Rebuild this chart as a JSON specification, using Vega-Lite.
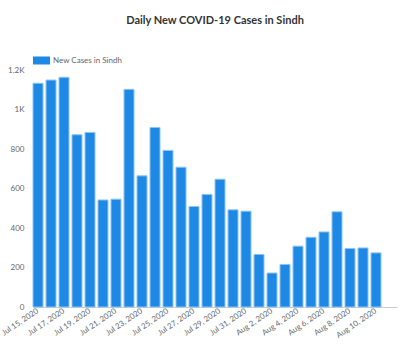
{
  "$schema": "https://vega.github.io/schema/vega-lite/v6.json",
  "autosize": "none",
  "width": 364,
  "height": 237,
  "padding": {"left": 33, "top": 70, "right": 3, "bottom": 45},
  "background": "white",
  "title": {
    "text": "Daily New COVID-19 Cases in Sindh",
    "font": "Lato",
    "fontSize": 11,
    "fontWeight": "bold",
    "color": "#333333",
    "anchor": "middle",
    "frame": "group",
    "offset": 26
  },
  "data": {
    "values": [
      {"date": "Jul 15, 2020", "cases": 1133},
      {"date": "Jul 16, 2020", "cases": 1149},
      {"date": "Jul 17, 2020", "cases": 1163},
      {"date": "Jul 18, 2020", "cases": 872},
      {"date": "Jul 19, 2020", "cases": 884},
      {"date": "Jul 20, 2020", "cases": 542},
      {"date": "Jul 21, 2020", "cases": 546},
      {"date": "Jul 22, 2020", "cases": 1102},
      {"date": "Jul 23, 2020", "cases": 664},
      {"date": "Jul 24, 2020", "cases": 909},
      {"date": "Jul 25, 2020", "cases": 793},
      {"date": "Jul 26, 2020", "cases": 708},
      {"date": "Jul 27, 2020", "cases": 509},
      {"date": "Jul 28, 2020", "cases": 570},
      {"date": "Jul 29, 2020", "cases": 647},
      {"date": "Jul 30, 2020", "cases": 492},
      {"date": "Jul 31, 2020", "cases": 485},
      {"date": "Aug 1, 2020", "cases": 266},
      {"date": "Aug 2, 2020", "cases": 172},
      {"date": "Aug 3, 2020", "cases": 215},
      {"date": "Aug 4, 2020", "cases": 308},
      {"date": "Aug 5, 2020", "cases": 353},
      {"date": "Aug 6, 2020", "cases": 380},
      {"date": "Aug 7, 2020", "cases": 482},
      {"date": "Aug 8, 2020", "cases": 296},
      {"date": "Aug 9, 2020", "cases": 299},
      {"date": "Aug 10, 2020", "cases": 274}
    ]
  },
  "mark": {"type": "bar", "stroke": "#8CC4F5", "strokeWidth": 1},
  "encoding": {
    "x": {
      "field": "date",
      "type": "nominal",
      "sort": null,
      "scale": {"paddingInner": 0.23, "paddingOuter": 0.615, "align": 0},
      "axis": {
        "title": null,
        "values": ["Jul 15, 2020", "Jul 17, 2020", "Jul 19, 2020", "Jul 21, 2020", "Jul 23, 2020", "Jul 25, 2020", "Jul 27, 2020", "Jul 29, 2020", "Jul 31, 2020", "Aug 2, 2020", "Aug 4, 2020", "Aug 6, 2020", "Aug 8, 2020", "Aug 10, 2020"],
        "labelAngle": -34,
        "labelAlign": "right",
        "labelBaseline": "middle",
        "labelFont": "Lato",
        "labelFontSize": 7.8,
        "labelColor": "#666666",
        "labelPadding": 3,
        "ticks": false,
        "domainColor": "#cccccc",
        "domainWidth": 1,
        "grid": false
      }
    },
    "y": {
      "field": "cases",
      "type": "quantitative",
      "scale": {"domain": [0, 1200], "nice": false},
      "axis": {
        "title": null,
        "values": [0, 200, 400, 600, 800, 1000, 1200],
        "labelExpr": "replace(format(datum.value, '~s'), 'k', 'K')",
        "labelFont": "Lato",
        "labelFontSize": 8,
        "labelColor": "#666666",
        "labelPadding": 9,
        "ticks": false,
        "domain": false,
        "grid": false
      }
    },
    "color": {
      "datum": "New Cases in Sindh",
      "type": "nominal",
      "scale": {"range": ["#1E88E5"]},
      "legend": {
        "title": null,
        "orient": "none",
        "legendX": 0,
        "legendY": -18,
        "padding": 0,
        "symbolType": "M-1,-0.47L1,-0.47L1,0.47L-1,0.47Z",
        "symbolSize": 289,
        "symbolStrokeWidth": 0,
        "symbolOpacity": 1,
        "labelFont": "Lato",
        "labelFontSize": 8,
        "labelColor": "#666666",
        "labelOffset": 3
      }
    }
  },
  "config": {"view": {"stroke": null}}
}
